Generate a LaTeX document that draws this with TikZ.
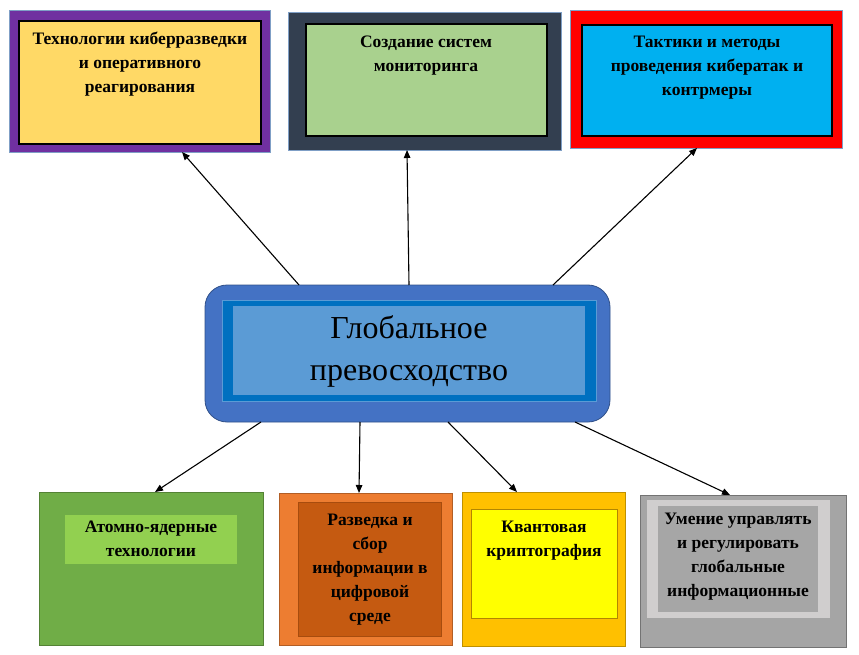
\documentclass[tikz,border=0pt]{standalone}
\usepackage{fontspec}
\setmainfont{Liberation Serif}
\usetikzlibrary{arrows.meta}

% colours of the frames and fills
\definecolor{framelvl}{HTML}{7030A0}
\definecolor{filllvl}{HTML}{FFD966}
\definecolor{frameslate}{HTML}{333F50}
\definecolor{fillmint}{HTML}{A9D18E}
\definecolor{framered}{HTML}{FF0000}
\definecolor{fillsky}{HTML}{00B0F0}
\definecolor{globouter}{HTML}{4472C4}
\definecolor{globmid}{HTML}{0070C0}
\definecolor{globinner}{HTML}{5B9BD5}
\definecolor{atomouter}{HTML}{70AD47}
\definecolor{atominner}{HTML}{92D050}
\definecolor{intelouter}{HTML}{ED7D31}
\definecolor{intelinner}{HTML}{C55A11}
\definecolor{quantouter}{HTML}{FFC000}
\definecolor{quantinner}{HTML}{FFFF00}
\definecolor{manageouter}{HTML}{A5A5A5}
\definecolor{managemid}{HTML}{D0CECE}
\definecolor{manageinner}{HTML}{A6A6A6}
\definecolor{edgeblue}{HTML}{7F9FC6}

\begin{document}
\begin{tikzpicture}[x=1pt, y=-1pt,
  box/.style={rectangle, inner sep=0pt, outer sep=0pt, line width=0.8pt},
  label/.style={inner sep=0pt, anchor=north, align=center,
    font=\bfseries\fontsize{17.5}{24}\selectfont},
  arr/.style={-{Triangle[length=8pt,width=6.5pt]}, line width=1.1pt, black}]
  \useasboundingbox (0,0) rectangle (859,655);

  % upper row
  \node[box, draw=edgeblue, fill=framelvl, minimum width=261, minimum height=142] (cyber) at (139.5,81) {};
  \node[box, draw=black, line width=1.2pt, fill=filllvl, minimum width=242, minimum height=123] at (140,82.5) {};
  \node[label] (cybertxt) at (140,32) {Технологии киберразведки\\и оперативного\\реагирования};

  \node[box, draw=edgeblue, fill=frameslate, minimum width=273, minimum height=138] (monitor) at (424.5,81) {};
  \node[box, draw=black, line width=1.2pt, fill=fillmint, minimum width=241, minimum height=112] at (426.5,80) {};
  \node[label] (monitortxt) at (426,36) {Создание систем\\мониторинга};

  \node[box, draw=edgeblue, fill=framered, minimum width=272, minimum height=138] (tactics) at (706,79) {};
  \node[box, draw=black, line width=1.2pt, fill=fillsky, minimum width=250, minimum height=111] at (707,80.5) {};
  \node[label] (tacticstxt) at (707,36) {Тактики и методы\\проведения кибератак и\\контрмеры};

  % central block
  \node[box, draw=globouter!70!black, fill=globouter, rounded corners=22pt, minimum width=405, minimum height=137] (glob) at (407.5,353.5) {};
  \node[box, draw=globinner, fill=globmid, minimum width=374, minimum height=101] at (409,350.5) {};
  \node[box, fill=globinner, minimum width=352, minimum height=89] at (409,350.5) {};
  \node[inner sep=0pt, anchor=north, align=center, font=\fontsize{32}{42}\selectfont] (globtxt) at (409,315) {Глобальное\\превосходство};

  % lower row
  \node[box, draw=atomouter!75!black, fill=atomouter, minimum width=224, minimum height=153] (atom) at (151,568.5) {};
  \node[box, fill=atominner, minimum width=172, minimum height=49] at (151,539.5) {};
  \node[label] (atomtxt) at (151,521) {Атомно-ядерные\\технологии};

  \node[box, draw=intelouter!75!black, fill=intelouter, minimum width=173, minimum height=152] (intel) at (365.5,569) {};
  \node[box, draw=intelinner!85!black, fill=intelinner, minimum width=143, minimum height=134] at (369.5,569) {};
  \node[label] (inteltxt) at (370,514) {Разведка и\\сбор\\информации в\\цифровой\\среде};

  \node[box, draw=quantouter!75!black, fill=quantouter, minimum width=163, minimum height=154] (quantum) at (543.5,569) {};
  \node[box, draw=quantouter!70!black, fill=quantinner, minimum width=146, minimum height=109] at (544,563.5) {};
  \node[label] (quantumtxt) at (544,521) {Квантовая\\криптография};

  \node[box, draw=manageouter!70!black, fill=manageouter, minimum width=206, minimum height=152] (manage) at (743,571) {};
  \node[box, fill=managemid, minimum width=183, minimum height=118] at (738.5,559) {};
  \node[box, fill=manageinner, minimum width=160, minimum height=106] at (738,559) {};
  \node[label] (managetxt) at (738,513) {Умение управлять\\и регулировать\\глобальные\\информационные};

  % arrows out of the central block
  \draw[arr] ([xshift=94]glob.north west) -- ([xshift=173]cyber.south west);
  \draw[arr] ([xshift=204]glob.north west) -- ([xshift=119]monitor.south west);
  \draw[arr] ([xshift=348]glob.north west) -- ([xshift=127]tactics.south west);
  \draw[arr] ([xshift=56]glob.south west) -- ([xshift=116]atom.north west);
  \draw[arr] ([xshift=155]glob.south west) -- ([xshift=80]intel.north west);
  \draw[arr] ([xshift=243]glob.south west) -- ([xshift=55]quantum.north west);
  \draw[arr] ([xshift=370]glob.south west) -- ([xshift=90]manage.north west);
\end{tikzpicture}
\end{document}
